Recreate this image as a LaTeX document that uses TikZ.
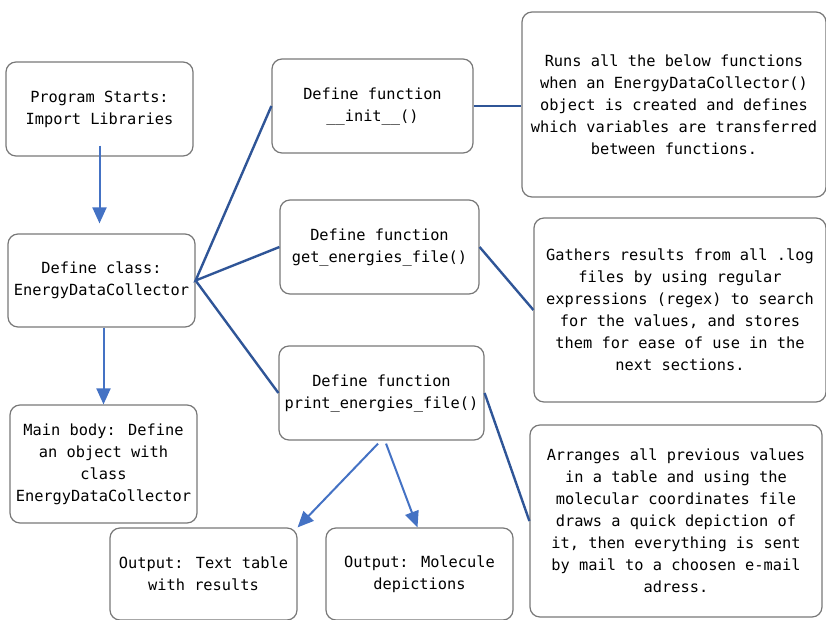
\documentclass[tikz,border=0pt]{standalone}
\usepackage{fontspec}
\setmainfont{DejaVu Sans Mono}
\usetikzlibrary{arrows.meta}
\definecolor{linkblue}{RGB}{47,85,151}
\definecolor{arrowblue}{RGB}{68,114,196}
\definecolor{boxgrey}{RGB}{120,120,120}

\begin{document}
\begin{tikzpicture}[x=0.75pt,y=-0.75pt,
		box/.style={draw=boxgrey,line width=0.9pt,rounded corners=7.5pt,align=center,
			inner sep=0pt,font=\fontsize{11.5}{16.5}\selectfont},
		flowarrow/.style={draw=arrowblue,line width=1.5pt,-{Triangle[length=12pt,width=10.5pt]}},
		linkline/.style={draw=linkblue,line width=1.8pt}]
		\useasboundingbox (0,0) rectangle (826,619);
		% main flow
		\node[box,minimum width=140.25pt,minimum height=70.5pt] (start) at (99.5,109) {Program Starts:\\Import Libraries};
		\node[box,minimum width=140.25pt,minimum height=69.75pt] (class) at (101.5,280.5) {Define class:\\EnergyDataCollector};
		\node[box,minimum width=140.25pt,minimum height=88.5pt] (main) at (103.5,464) {Main body: Define\\an object with\\class\\EnergyDataCollector};
		% functions
		\node[box,minimum width=150.75pt,minimum height=70.5pt] (init) at (372.5,106) {Define function\\\_\_init\_\_()};
		\node[box,minimum width=149.25pt,minimum height=70.5pt] (get) at (379.5,247) {Define function\\get\_energies\_file()};
		\node[box,minimum width=153.75pt,minimum height=70.5pt] (print) at (381.5,393) {Define function\\print\_energies\_file()};
		% outputs
		\node[box,minimum width=140.25pt,minimum height=69pt] (table) at (203.5,574) {Output: Text table\\with results};
		\node[box,minimum width=140.25pt,minimum height=69pt] (molecule) at (419.5,574) {Output: Molecule\\depictions};
		% descriptions
		\node[box,minimum width=228pt,minimum height=138.75pt] (runs) at (674,104.5) {Runs all the below functions\\when an EnergyDataCollector()\\object is created and defines\\which variables are transferred\\between functions.};
		\node[box,minimum width=219pt,minimum height=138pt] (gathers) at (680,310) {Gathers results from all .log\\files by using regular\\expressions (regex) to search\\for the values, and stores\\them for ease of use in the\\next sections.};
		\node[box,minimum width=219pt,minimum height=144pt] (arranges) at (676,521) {Arranges all previous values\\in a table and using the\\molecular coordinates file\\draws a quick depiction of\\it, then everything is sent\\by mail to a choosen e-mail\\adress.};

		\draw[flowarrow] ([yshift=8.25pt]start.south) -- ([yshift=7.5pt]class.north -| start.south);
		\draw[flowarrow] (class.south -| main.north) -- (main.north);
		\draw[flowarrow] ([xshift=-2.6pt,yshift=-2.25pt]print.south) -- (table.north east);
		\draw[flowarrow] ([xshift=3.4pt,yshift=-2.25pt]print.south) -- ([xshift=-1.5pt]molecule.north);

		\draw[linkline] (init.west) -- (class.east) -- (get.west);
		\draw[linkline] (class.east) -- (print.west);
		\draw[linkline] (init.east) -- (init.east -| runs.west);
		\draw[linkline] (get.east) -- (gathers.west);
		\draw[linkline] (print.east) -- (arranges.west);
\end{tikzpicture}
\end{document}
